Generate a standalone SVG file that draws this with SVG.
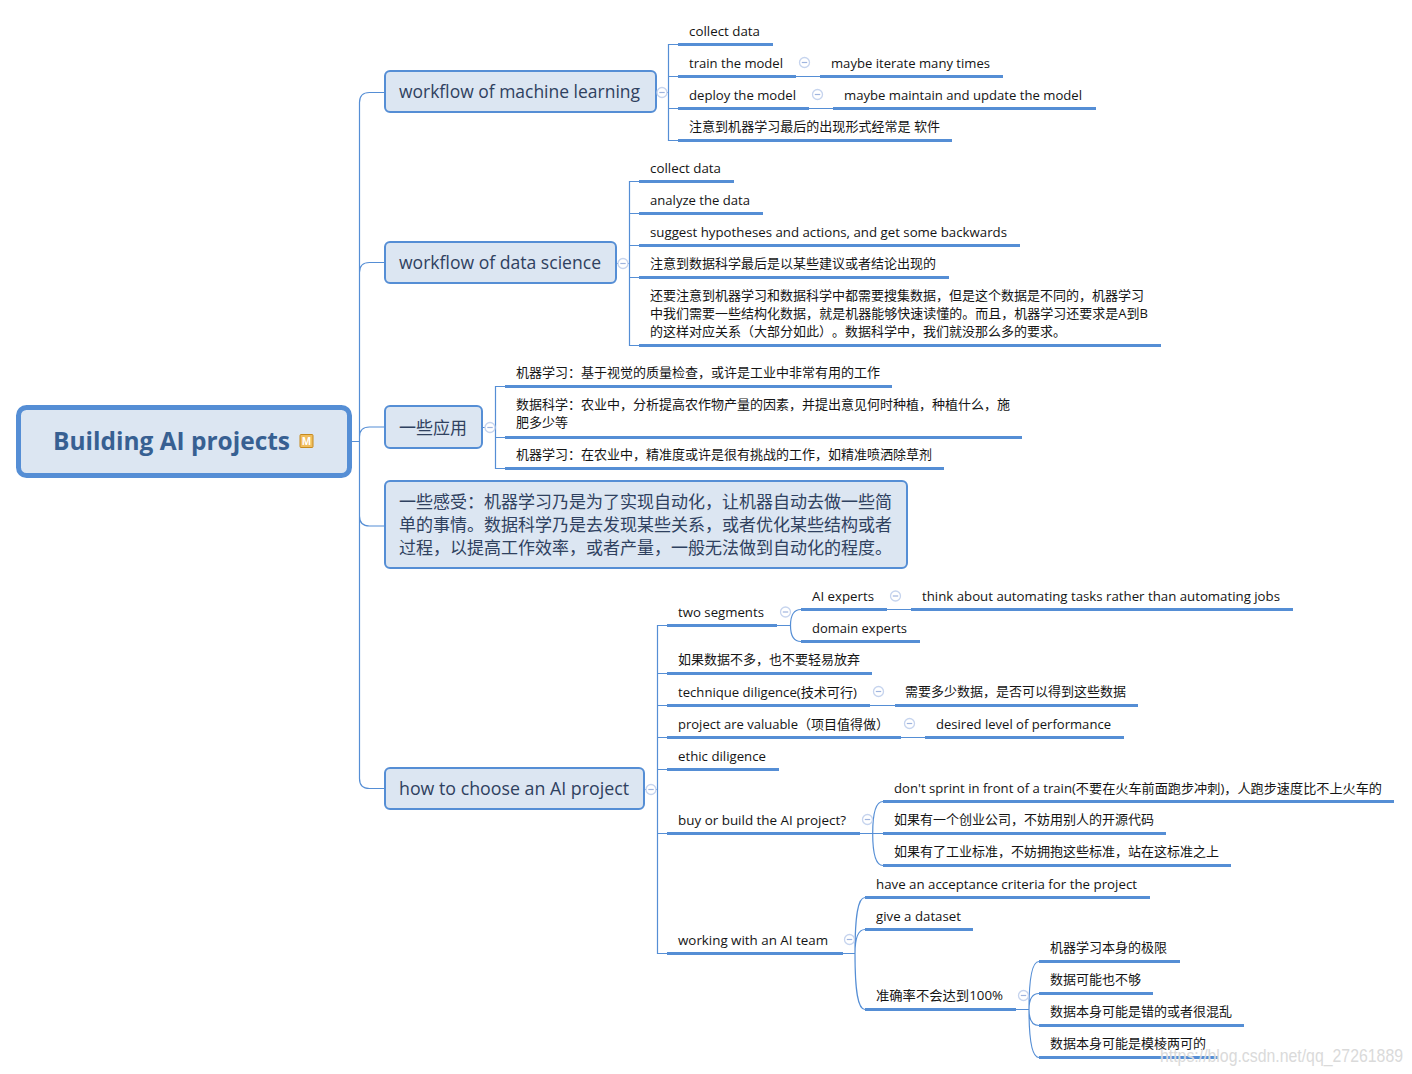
<svg xmlns="http://www.w3.org/2000/svg" width="1412" height="1074" viewBox="0 0 1412 1074">
<style>
text{font-family:"Open Sans","Noto Sans CJK SC",sans-serif;white-space:pre;text-spacing-trim:space-all}
.t{font-size:13px;fill:#141414}
.l1{font-size:18px;fill:#2f4160}
.l1c{font-size:17px;fill:#2f4160}
.box{fill:#dce6f2;stroke:#558ed5;stroke-width:2}
.u{stroke:#558ed5;stroke-width:3;fill:none}
.c{stroke:#558ed5;stroke-width:1.2;fill:none}
.ic circle{fill:#fff;stroke:#c6d4ee;stroke-width:1.3}
.ic path{stroke:#9fb4de;stroke-width:1.2;fill:none}
</style>
<defs><g id="m" class="ic"><circle r="5"/><path d="M-2.700 0H2.700"/></g></defs>
<rect width="1412" height="1074" fill="#fff"/>
<g id="connectors">
<path class="c" d="M351 441.500H359.500M385 92.500H369.500Q359.500 92.500 359.500 102.500V778.500Q359.500 788.500 369.500 788.500H385M359.500 272.500Q359.500 262.500 369.500 262.500H385M359.500 437Q359.500 427 369.500 427H385M359.500 516Q359.500 526 369.500 526H385"/>
<path class="c" d="M656 92.500H668.500M678 44.500H668.500V140.500H678M668.500 76.500H678M668.500 108.500H678M796 76.500H820M809 108.500H833"/>
<path class="c" d="M616 263.500H629.500M639 181.500H629.500V345.500H639M629.500 213.500H639M629.500 245.500H639M629.500 277.500H639"/>
<path class="c" d="M482 427.500H495.500M505 386.500H495.500V468.500H505M495.500 437.500H505"/>
<path class="c" d="M644 789.500H657.500M667 625.500H657.500V953.500H667M657.500 673.500H667M657.500 705.500H667M657.500 737.500H667M657.500 769.500H667M657.500 833.500H667"/>
<path class="c" d="M777 625.500H790.500M801 609.500C794 609.500 790.500 615 790.500 625.500C790.500 636 794 641.500 801 641.500M887 609.500H911M870 705.500H895M901 737.500H925"/>
<path class="c" d="M860 833.500H883M883 801.500C876 801.500 872.700 814 872.700 833.500C872.700 853 876 865.500 883 865.500"/>
<path class="c" d="M843 953.500H855M865 897.500C858 897.500 855 915 855 953.500C855 992 858 1009.500 865 1009.500M865 929.500C858 929.500 855 938 855 953.500"/>
<path class="c" d="M1016 1009.500H1029M1039 961.500C1032 961.500 1029 979 1029 1009.500C1029 1040 1032 1057.500 1039 1057.500M1039 993.500C1032 993.500 1029 999 1029 1009.500C1029 1020 1032 1025.500 1039 1025.500"/>
</g>
<g id="root">
<rect x="18.500" y="407.500" width="331" height="68" rx="8" fill="#dce6f2" stroke="#558ed5" stroke-width="5"/>
<text x="53" y="450" font-size="25" font-weight="700" fill="#376092" textLength="237" lengthAdjust="spacingAndGlyphs">Building AI projects</text>
<rect x="300" y="434.500" width="13" height="13" rx="1" fill="#f0bd5e" stroke="#c68a1f"/>
<text x="306.500" y="445" font-size="10" font-weight="700" fill="#fff" text-anchor="middle">M</text>
</g>
<g id="n-ml">
<rect class="box" x="385" y="71" width="271" height="41" rx="5"/>
<text class="l1" x="399" y="98" textLength="241" lengthAdjust="spacingAndGlyphs">workflow of machine learning</text>
<use href="#m" x="662" y="92.500"/>
</g>
<g id="n-ml-1"><text class="t" x="689" y="36" textLength="71" lengthAdjust="spacingAndGlyphs">collect data</text><path class="u" d="M678 44.500H773"/></g>
<g id="n-ml-2"><text class="t" x="689" y="68" textLength="94" lengthAdjust="spacingAndGlyphs">train the model</text><path class="u" d="M678 76.500H796"/><use href="#m" x="804.500" y="62.500"/></g>
<g id="n-ml-2a"><text class="t" x="831" y="68" textLength="159" lengthAdjust="spacingAndGlyphs">maybe iterate many times</text><path class="u" d="M820 76.500H1003"/></g>
<g id="n-ml-3"><text class="t" x="689" y="100" textLength="107" lengthAdjust="spacingAndGlyphs">deploy the model</text><path class="u" d="M678 108.500H809"/><use href="#m" x="817.500" y="94.500"/></g>
<g id="n-ml-3a"><text class="t" x="844" y="100" textLength="238" lengthAdjust="spacingAndGlyphs">maybe maintain and update the model</text><path class="u" d="M833 108.500H1096"/></g>
<g id="n-ml-4"><text class="t" x="689" y="131" textLength="251" lengthAdjust="spacingAndGlyphs">注意到机器学习最后的出现形式经常是 软件</text><path class="u" d="M678 140.500H952"/></g>
<g id="n-ds">
<rect class="box" x="385" y="242" width="231" height="41" rx="5"/>
<text class="l1" x="399" y="269" textLength="202" lengthAdjust="spacingAndGlyphs">workflow of data science</text>
<use href="#m" x="623" y="263.500"/>
</g>
<g id="n-ds-1"><text class="t" x="650" y="173" textLength="71" lengthAdjust="spacingAndGlyphs">collect data</text><path class="u" d="M639 181.500H734"/></g>
<g id="n-ds-2"><text class="t" x="650" y="205" textLength="100" lengthAdjust="spacingAndGlyphs">analyze the data</text><path class="u" d="M639 213.500H763"/></g>
<g id="n-ds-3"><text class="t" x="650" y="237" textLength="357" lengthAdjust="spacingAndGlyphs">suggest hypotheses and actions, and get some backwards</text><path class="u" d="M639 245.500H1020"/></g>
<g id="n-ds-4"><text class="t" x="650" y="268" textLength="286" lengthAdjust="spacingAndGlyphs">注意到数据科学最后是以某些建议或者结论出现的</text><path class="u" d="M639 277.500H949"/></g>
<g id="n-ds-5">
<text class="t" x="650" y="300" textLength="494" lengthAdjust="spacingAndGlyphs">还要注意到机器学习和数据科学中都需要搜集数据，但是这个数据是不同的，机器学习</text>
<text class="t" x="650" y="318" textLength="498" lengthAdjust="spacingAndGlyphs">中我们需要一些结构化数据，就是机器能够快速读懂的。而且，机器学习还要求是A到B</text>
<text class="t" x="650" y="336" textLength="416" lengthAdjust="spacingAndGlyphs">的这样对应关系（大部分如此）。数据科学中，我们就没那么多的要求。</text>
<path class="u" d="M639 345.500H1161"/></g>
<g id="n-app">
<rect class="box" x="385" y="406" width="97" height="42" rx="5"/>
<text class="l1c" x="399" y="434" textLength="68" lengthAdjust="spacingAndGlyphs">一些应用</text>
<use href="#m" x="490" y="427.500"/>
</g>
<g id="n-app-1"><text class="t" x="516" y="377" textLength="364" lengthAdjust="spacingAndGlyphs">机器学习：基于视觉的质量检查，或许是工业中非常有用的工作</text><path class="u" d="M505 386.500H892"/></g>
<g id="n-app-2">
<text class="t" x="516" y="409" textLength="494" lengthAdjust="spacingAndGlyphs">数据科学：农业中，分析提高农作物产量的因素，并提出意见何时种植，种植什么，施</text>
<text class="t" x="516" y="427" textLength="52" lengthAdjust="spacingAndGlyphs">肥多少等</text>
<path class="u" d="M505 437.500H1022"/></g>
<g id="n-app-3"><text class="t" x="516" y="459" textLength="416" lengthAdjust="spacingAndGlyphs">机器学习：在农业中，精准度或许是很有挑战的工作，如精准喷洒除草剂</text><path class="u" d="M505 468.500H944"/></g>
<g id="n-feel">
<rect class="box" x="385" y="481" width="522" height="87" rx="5"/>
<text class="l1c" x="399" y="508" textLength="493" lengthAdjust="spacingAndGlyphs">一些感受：机器学习乃是为了实现自动化，让机器自动去做一些简</text>
<text class="l1c" x="399" y="531" textLength="493" lengthAdjust="spacingAndGlyphs">单的事情。数据科学乃是去发现某些关系，或者优化某些结构或者</text>
<text class="l1c" x="399" y="554" textLength="493" lengthAdjust="spacingAndGlyphs">过程，以提高工作效率，或者产量，一般无法做到自动化的程度。</text>
</g>
<g id="n-how">
<rect class="box" x="385" y="768" width="259" height="41" rx="5"/>
<text class="l1" x="399" y="795" textLength="230" lengthAdjust="spacingAndGlyphs">how to choose an AI project</text>
<use href="#m" x="651" y="789.500"/>
</g>
<g id="n-how-1"><text class="t" x="678" y="617" textLength="86" lengthAdjust="spacingAndGlyphs">two segments</text><path class="u" d="M667 625.500H777"/><use href="#m" x="785.500" y="612"/></g>
<g id="n-how-1a"><text class="t" x="812" y="601" textLength="62" lengthAdjust="spacingAndGlyphs">AI experts</text><path class="u" d="M801 609.500H887"/><use href="#m" x="895.500" y="596"/></g>
<g id="n-how-1a1"><text class="t" x="922" y="601" textLength="358" lengthAdjust="spacingAndGlyphs">think about automating tasks rather than automating jobs</text><path class="u" d="M911 609.500H1293"/></g>
<g id="n-how-1b"><text class="t" x="812" y="633" textLength="95" lengthAdjust="spacingAndGlyphs">domain experts</text><path class="u" d="M801 641.500H920"/></g>
<g id="n-how-2"><text class="t" x="678" y="664" textLength="182" lengthAdjust="spacingAndGlyphs">如果数据不多，也不要轻易放弃</text><path class="u" d="M667 673.500H872"/></g>
<g id="n-how-3"><text class="t" x="678" y="697" textLength="179" lengthAdjust="spacingAndGlyphs">technique diligence(技术可行)</text><path class="u" d="M667 705.500H870"/><use href="#m" x="878.500" y="691.500"/></g>
<g id="n-how-3a"><text class="t" x="905" y="696" textLength="221" lengthAdjust="spacingAndGlyphs">需要多少数据，是否可以得到这些数据</text><path class="u" d="M895 705.500H1138"/></g>
<g id="n-how-4"><text class="t" x="678" y="729" textLength="211" lengthAdjust="spacingAndGlyphs">project are valuable（项目值得做）</text><path class="u" d="M667 737.500H901"/><use href="#m" x="909.500" y="723.500"/></g>
<g id="n-how-4a"><text class="t" x="936" y="729" textLength="175" lengthAdjust="spacingAndGlyphs">desired level of performance</text><path class="u" d="M925 737.500H1124"/></g>
<g id="n-how-5"><text class="t" x="678" y="761" textLength="88" lengthAdjust="spacingAndGlyphs">ethic diligence</text><path class="u" d="M667 769.500H779"/></g>
<g id="n-how-6"><text class="t" x="678" y="825" textLength="168" lengthAdjust="spacingAndGlyphs">buy or build the AI project?</text><path class="u" d="M667 833.500H860"/><use href="#m" x="867.500" y="819.500"/></g>
<g id="n-how-6a"><text class="t" x="894" y="793" textLength="488" lengthAdjust="spacingAndGlyphs">don't sprint in front of a train(不要在火车前面跑步冲刺)，人跑步速度比不上火车的</text><path class="u" d="M883 801.500H1394"/></g>
<g id="n-how-6b"><text class="t" x="894" y="824" textLength="260" lengthAdjust="spacingAndGlyphs">如果有一个创业公司，不妨用别人的开源代码</text><path class="u" d="M883 833.500H1166"/></g>
<g id="n-how-6c"><text class="t" x="894" y="856" textLength="325" lengthAdjust="spacingAndGlyphs">如果有了工业标准，不妨拥抱这些标准，站在这标准之上</text><path class="u" d="M883 865.500H1231"/></g>
<g id="n-how-7"><text class="t" x="678" y="945" textLength="150" lengthAdjust="spacingAndGlyphs">working with an AI team</text><path class="u" d="M667 953.500H843"/><use href="#m" x="849.500" y="939.500"/></g>
<g id="n-how-7a"><text class="t" x="876" y="889" textLength="261" lengthAdjust="spacingAndGlyphs">have an acceptance criteria for the project</text><path class="u" d="M865 897.500H1150"/></g>
<g id="n-how-7b"><text class="t" x="876" y="921" textLength="85" lengthAdjust="spacingAndGlyphs">give a dataset</text><path class="u" d="M865 929.500H973"/></g>
<g id="n-how-7c"><text class="t" x="876" y="1000" textLength="127" lengthAdjust="spacingAndGlyphs">准确率不会达到100%</text><path class="u" d="M865 1009.500H1016"/><use href="#m" x="1023.500" y="995.500"/></g>
<g id="n-how-7c1"><text class="t" x="1050" y="952" textLength="117" lengthAdjust="spacingAndGlyphs">机器学习本身的极限</text><path class="u" d="M1039 961.500H1180"/></g>
<g id="n-how-7c2"><text class="t" x="1050" y="984" textLength="91" lengthAdjust="spacingAndGlyphs">数据可能也不够</text><path class="u" d="M1039 993.500H1153"/></g>
<g id="n-how-7c3"><text class="t" x="1050" y="1016" textLength="182" lengthAdjust="spacingAndGlyphs">数据本身可能是错的或者很混乱</text><path class="u" d="M1039 1025.500H1244"/></g>
<g id="n-how-7c4"><text class="t" x="1050" y="1048" textLength="156" lengthAdjust="spacingAndGlyphs">数据本身可能是模棱两可的</text><path class="u" d="M1039 1057.500H1218"/></g>
<text x="1160" y="1062" font-size="19" style="font-family:'Liberation Sans',sans-serif" fill="#dadada" stroke="#fff" stroke-opacity=".5" stroke-width=".6" paint-order="stroke" textLength="243" lengthAdjust="spacingAndGlyphs">https://blog.csdn.net/qq_27261889</text>
</svg>
